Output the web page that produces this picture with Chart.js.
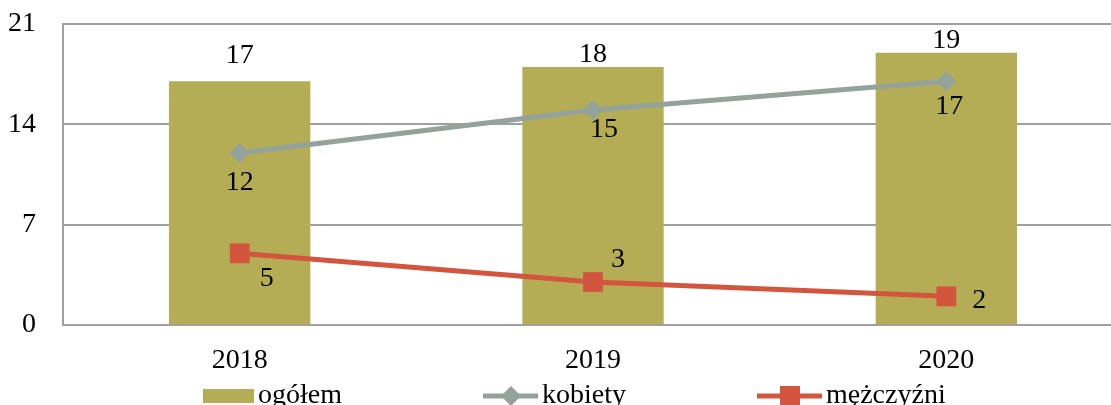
<!DOCTYPE html>
<html lang="pl">
<head>
<meta charset="UTF-8">
<title>ogółem, kobiety, mężczyźni 2018-2020</title>
<script src="https://cdn.jsdelivr.net/npm/chart.js"></script>
<style>
  body { margin: 0; background: #fff; overflow: hidden; }
  .wrap { width: 1111px; height: 405px; overflow: hidden; position: relative; }
  .box { position: absolute; left: 0; top: 0; width: 1123px; height: 420px; }
</style>
</head>
<body>
<div class="wrap"><div class="box"><canvas id="chart"></canvas></div></div>
<script>
const years = ["2018", "2019", "2020"];
const ogolem = [17, 18, 19];
const kobiety = [12, 15, 17];
const mezczyzni = [5, 3, 2];
const yMax = 21;
const yStep = 7;

const OLIVE = "#B5AD55";
const GRAY = "#93A39B";
const RED = "#D3553E";
const FONT = '"Liberation Serif", "DejaVu Serif", serif';

// legend symbols: wide transparent canvas, symbol sits just before the text
const SYM_W = 181, LEG_PAD = 5, LEG_SHIFT = 58;
function symbol(kind) {
  const c = document.createElement("canvas");
  c.width = SYM_W + 40; c.height = 22;
  const g = c.getContext("2d");
  const right = c.width - 10, cy = c.height / 2;
  if (kind === "bar") {
    g.fillStyle = OLIVE;
    g.fillRect(right - 51, cy - 7, 51, 14);
  } else if (kind === "diamond") {
    const cx = right - 27;
    g.strokeStyle = GRAY; g.lineWidth = 5;
    g.beginPath(); g.moveTo(right - 55, cy); g.lineTo(right, cy); g.stroke();
    g.fillStyle = GRAY;
    g.beginPath(); g.moveTo(cx, cy - 10); g.lineTo(cx + 10, cy); g.lineTo(cx, cy + 10); g.lineTo(cx - 10, cy); g.closePath(); g.fill();
  } else {
    const cx = right - 32;
    g.strokeStyle = RED; g.lineWidth = 5;
    g.beginPath(); g.moveTo(right - 65, cy); g.lineTo(right, cy); g.stroke();
    g.fillStyle = RED;
    g.fillRect(cx - 10, cy - 10, 20, 20);
  }
  return c;
}
const legendSymbols = [symbol("bar"), symbol("diamond"), symbol("square")];

const valueLabels = {
  id: "valueLabels",
  afterDatasetsDraw(chart, args, opts) {
    const ctx = chart.ctx;
    ctx.save();
    ctx.font = "28px " + FONT;
    ctx.fillStyle = "#000";
    ctx.textAlign = "center";
    ctx.textBaseline = "middle";
    chart.data.datasets.forEach((ds, i) => {
      const meta = chart.getDatasetMeta(i);
      const off = opts.offsets[i];
      meta.data.forEach((el, j) => {
        ctx.fillText(ds.data[j], el.x + off[j][0], el.y + off[j][1]);
      });
    });
    ctx.restore();
  }
};

// move the legend row to the right, like in the original
const legendShift = {
  id: "legendShift",
  afterLayout(chart) {
    chart.legend.left += LEG_SHIFT;
    chart.legend.right += LEG_SHIFT;
  }
};

Chart.defaults.font.family = FONT;
Chart.defaults.font.size = 28;
Chart.defaults.color = "#000";

new Chart(document.getElementById("chart"), {
  type: "bar",
  data: {
    labels: years,
    datasets: [
      {
        label: "ogółem",
        data: ogolem,
        backgroundColor: OLIVE,
        barPercentage: 0.4,
        categoryPercentage: 1,
        order: 2
      },
      {
        type: "line",
        label: "kobiety",
        data: kobiety,
        borderColor: GRAY,
        backgroundColor: GRAY,
        borderWidth: 5,
        pointStyle: "rectRot",
        pointRadius: 10,
        pointBorderWidth: 0,
        tension: 0,
        order: 1
      },
      {
        type: "line",
        label: "mężczyźni",
        data: mezczyzni,
        borderColor: RED,
        backgroundColor: RED,
        borderWidth: 5,
        pointStyle: "rect",
        pointRadius: 14,
        pointBorderWidth: 0,
        tension: 0,
        order: 0
      }
    ]
  },
  options: {
    responsive: true,
    maintainAspectRatio: false,
    animation: false,
    layout: { autoPadding: false, padding: { left: 0, top: 24, right: 0, bottom: 0 } },
    scales: {
      x: {
        grid: { display: false, drawTicks: false },
        border: { color: "#A0A0A0", width: 2 },
        ticks: { padding: 22, font: { size: 28, lineHeight: 1 } },
        afterFit(scale) {
          scale.height = 52;
          scale.paddingLeft = 0;
          scale.paddingRight = 0;
        }
      },
      y: {
        min: 0,
        max: yMax,
        ticks: { stepSize: yStep, padding: 27, font: { size: 28 } },
        grid: { color: "#A0A0A0", lineWidth: 2, drawTicks: false },
        border: { color: "#A0A0A0", width: 2 },
        afterFit(scale) {
          scale.width = 63;
          scale.paddingTop = 0;
          scale.paddingBottom = 0;
        }
      }
    },
    plugins: {
      tooltip: { enabled: false },
      legend: {
        position: "bottom",
        align: "start",
        labels: {
          usePointStyle: true,
          pointStyleWidth: SYM_W,
          padding: LEG_PAD,
          font: { size: 28, lineHeight: 1 },
          sort: (a, b) => a.datasetIndex - b.datasetIndex,
          generateLabels(chart) {
            const items = Chart.defaults.plugins.legend.labels.generateLabels(chart);
            items.forEach(it => { it.pointStyle = legendSymbols[it.datasetIndex]; });
            return items;
          }
        }
      },
      valueLabels: {
        offsets: [
          [[0, -26], [0, -12], [0, -12]],
          [[0, 30], [11, 20], [3, 25]],
          [[27, 25], [25, -22], [33, 4]]
        ]
      }
    }
  },
  plugins: [valueLabels, legendShift]
});
</script>
</body>
</html>
